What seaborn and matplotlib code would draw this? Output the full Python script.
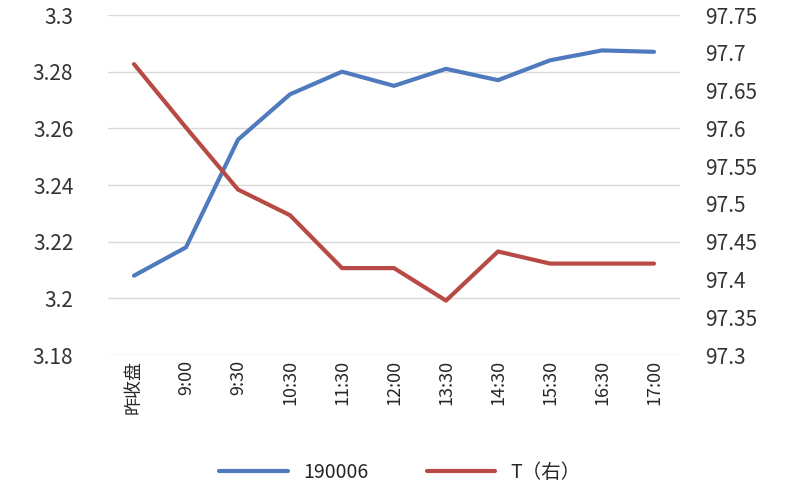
import seaborn as sns
import pandas as pd
from matplotlib import pyplot as plt

labels = ["昨收盘", "9:00", "9:30", "10:30", "11:30", "12:00", "13:30", "14:30", "15:30", "16:30", "17:00"]
y190006 = [3.208, 3.218, 3.256, 3.272, 3.280, 3.275, 3.281, 3.277, 3.284, 3.2875, 3.287]
t_right = [97.685, 97.601, 97.519, 97.485, 97.415, 97.415, 97.372, 97.437, 97.421, 97.421, 97.421]

sns.set_style("white")
plt.rcParams['font.family'] = ['Noto Sans CJK SC', 'DejaVu Sans']

df = pd.DataFrame({"x": range(len(labels)), "a": y190006, "b": t_right})

fig, ax = plt.subplots(figsize=(8, 5), dpi=100)
ax2 = ax.twinx()
sns.lineplot(data=df, x="x", y="a", ax=ax, color="#4F7BBE", lw=3, label="190006", legend=False)
sns.lineplot(data=df, x="x", y="b", ax=ax2, color="#B84A45", lw=3, label="T（右）", legend=False)

ax.set_ylim(3.18, 3.3)
ax.set_yticks([3.18, 3.2, 3.22, 3.24, 3.26, 3.28, 3.3])
ax.set_yticklabels(["3.18", "3.2", "3.22", "3.24", "3.26", "3.28", "3.3"])
ax2.set_ylim(97.3, 97.75)
ax2.set_yticks([97.3, 97.35, 97.4, 97.45, 97.5, 97.55, 97.6, 97.65, 97.7, 97.75])
ax2.set_yticklabels(["97.3", "97.35", "97.4", "97.45", "97.5", "97.55", "97.6", "97.65", "97.7", "97.75"])
ax.set_xlim(-0.5, len(labels) - 0.5)
ax.set_xticks(range(len(labels)))
ax.set_xticklabels(labels, rotation=90, fontsize=13)
ax.tick_params(axis="y", labelsize=15, colors="#333333", length=0, pad=25)
ax2.tick_params(axis="y", labelsize=15, colors="#333333", length=0, pad=18)
ax.tick_params(axis="x", length=0)
ax.set_xlabel("")
ax.set_ylabel("")
ax2.set_ylabel("")
ax.grid(axis="y", color="#D9D9D9", lw=1)
for a in (ax, ax2):
    for s in a.spines.values():
        s.set_visible(False)

h1, l1 = ax.get_legend_handles_labels()
h2, l2 = ax2.get_legend_handles_labels()
fig.legend(h1 + h2, l1 + l2, loc="lower center", ncol=2, frameon=False, fontsize=14,
           bbox_to_anchor=(0.5, 0.0), handlelength=3.5, columnspacing=3)

fig.subplots_adjust(left=0.135, right=0.85, top=0.97, bottom=0.29)
fig.savefig("out.png")
